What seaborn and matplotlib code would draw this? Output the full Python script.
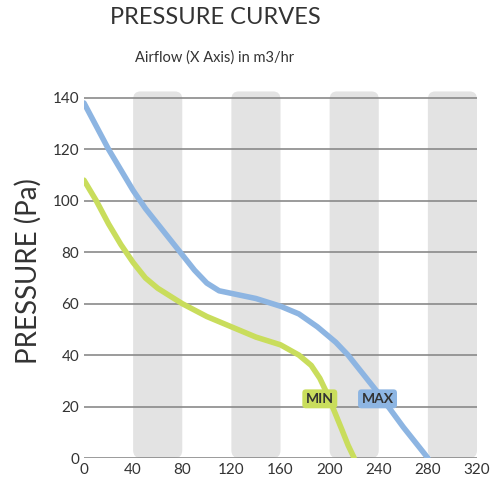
import matplotlib
matplotlib.use("Agg")
import matplotlib.pyplot as plt
import seaborn as sns
from matplotlib.patches import FancyBboxPatch

max_x = [0, 10, 20, 30, 40, 50, 60, 70, 80, 90, 100, 110, 120, 140, 160, 175, 190, 205, 215, 225, 240, 260, 280]
max_y = [138, 129, 120, 112, 104, 97, 91, 85, 79, 73, 68, 65, 64, 62, 59, 56, 51, 45, 40, 34, 25, 12, 0]
min_x = [0, 10, 20, 30, 40, 50, 60, 80, 100, 120, 140, 160, 175, 185, 192, 198, 204, 210, 215, 220]
min_y = [108, 100, 91, 83, 76, 70, 66, 60, 55, 51, 47, 44, 40, 36, 31, 25, 18, 11, 5, 0]
bands = [(40, 80), (120, 160), (200, 240), (280, 320)]
xticks = list(range(0, 321, 40))
yticks = list(range(0, 141, 20))

sns.set_style("white")
plt.rcParams['font.family'] = ['Lato', 'DejaVu Sans']
fig = plt.figure(figsize=(5, 5), dpi=100)
ax = fig.add_axes([0.168, 0.084, 0.786, 0.746])
for a, b in bands:
    ax.add_patch(FancyBboxPatch((a, 0), b - a, 142.5, boxstyle="round,pad=0,rounding_size=6",
                                fc="#e3e3e3", ec="none", zorder=0, mutation_aspect=0.5))
for y in yticks:
    ax.axhline(y, color="#8a8a8a", lw=1.2, zorder=1)
sns.lineplot(x=max_x, y=max_y, ax=ax, color="#8db5e2", lw=4, zorder=3)
sns.lineplot(x=min_x, y=min_y, ax=ax, color="#c9dd5c", lw=4, zorder=3)
ax.text(192, 23, "MIN", fontsize=10, fontweight="bold", color="#333", ha="center", va="center", zorder=5,
        bbox=dict(boxstyle="round,pad=0.25", fc="#c9dd5c", ec="none"))
ax.text(239, 23, "MAX", fontsize=10, fontweight="bold", color="#333", ha="center", va="center", zorder=5,
        bbox=dict(boxstyle="round,pad=0.25", fc="#8db5e2", ec="none"))
ax.set_xlim(0, 320); ax.set_ylim(0, 145)
ax.set_xticks(xticks); ax.set_yticks(yticks)
ax.tick_params(labelsize=11, length=0, colors="#333")
for s in ax.spines.values(): s.set_visible(False)
ax.set_ylabel("PRESSURE (Pa)", fontsize=20, color="#333", labelpad=8)
fig.text(0.43, 0.965, "PRESSURE CURVES", fontsize=17, ha="center", va="center", color="#333")
fig.text(0.43, 0.885, "Airflow (X Axis) in m3/hr", fontsize=10.5, ha="center", va="center", color="#333")
fig.savefig("out.png", dpi=100)
